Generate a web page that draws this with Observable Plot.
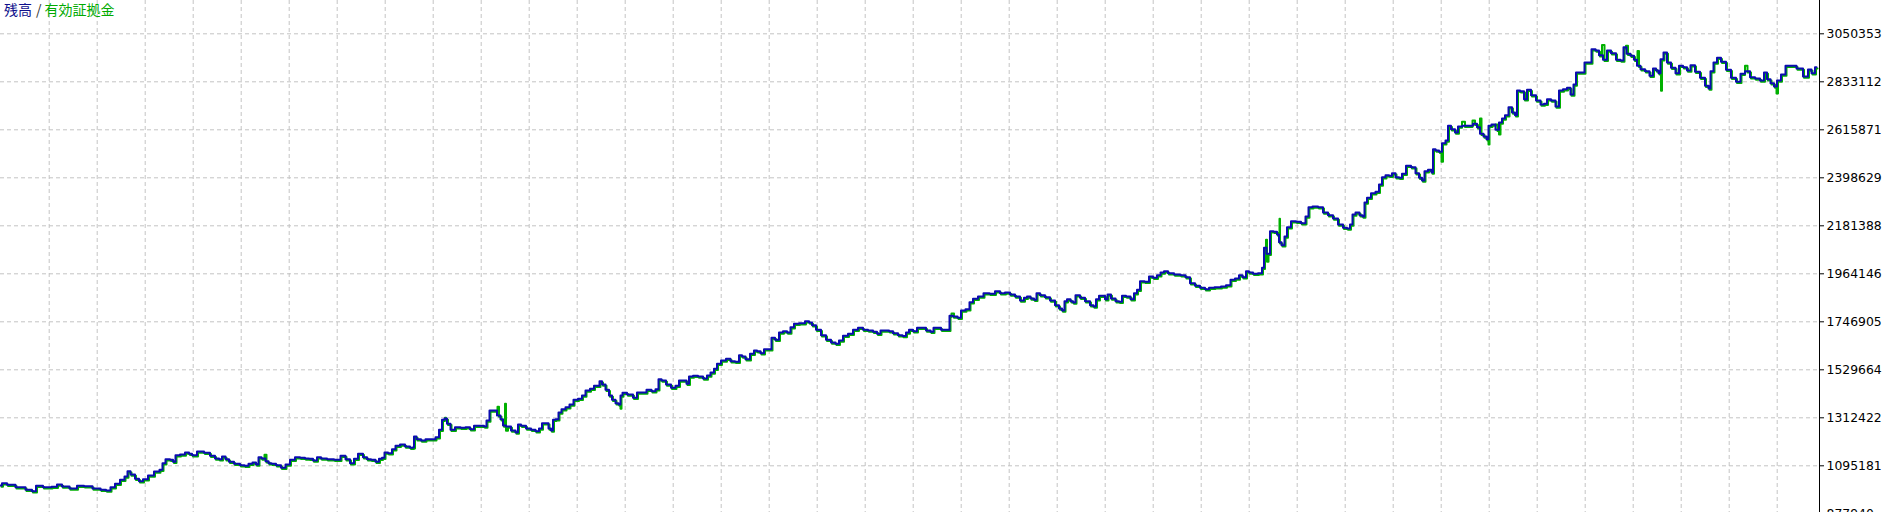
<!DOCTYPE html>
<html>
<head>
<meta charset="utf-8">
<script src="https://cdn.jsdelivr.net/npm/d3@7"></script>
<script src="https://cdn.jsdelivr.net/npm/@observablehq/plot@0.6"></script>
<style>
  html, body { margin: 0; padding: 0; background: #fff; overflow: hidden; }
  #wrap { position: relative; width: 1883px; height: 512px; }
  #title { position: absolute; left: 4px; top: 0px; font-family: "Noto Sans CJK JP", sans-serif; font-size: 14px; line-height: 18px; white-space: nowrap; }
  #title .bal { color: #10108c; }
  #title .sep { color: #333; margin: 0 3px 0 4px; }
  #title .eq { color: #00aa00; }
  svg text { font-family: "DejaVu Sans", sans-serif; }
</style>
</head>
<body>
<div id="wrap">
  <div id="chart"></div>
  <div id="title"><span class="bal">残高</span><span class="sep">/</span><span class="eq">有効証拠金</span></div>
</div>
<script>
// [trade number, balance]
const balanceHistory = [[0,1006000],[3,1016400],[10,1009200],[20,998300],[30,986600],[33,980200],[38,1004700],[47,998300],[55,1000100],[58,1010500],[65,1001500],[73,992400],[80,1004700],[87,1002900],[97,992400],[103,986600],[108,983400],[112,998300],[117,1013700],[122,1031800],[126,1046800],[128,1070700],[132,1055800],[137,1036300],[140,1025500],[145,1034500],[150,1051300],[157,1069400],[161,1077100],[163,1106900],[167,1125100],[172,1122300],[173,1113300],[177,1143200],[182,1146300],[187,1155400],[190,1149500],[193,1143200],[200,1159900],[207,1154000],[212,1140400],[217,1128200],[220,1125100],[223,1137300],[227,1125100],[230,1113300],[237,1104200],[242,1097900],[246,1095200],[250,1104200],[254,1110100],[257,1101100],[259,1134100],[263,1128200],[267,1116000],[269,1106900],[273,1104200],[278,1097900],[283,1086100],[287,1101100],[292,1122300],[297,1134100],[302,1131400],[307,1128200],[310,1126900],[315,1119200],[318,1134100],[323,1128200],[330,1125100],[337,1122300],[343,1140400],[347,1125100],[352,1106900],[355,1126900],[360,1149500],[365,1134100],[368,1125100],[373,1122300],[377,1113300],[380,1126900],[383,1131400],[385,1155400],[390,1152200],[393,1170300],[397,1185700],[402,1191600],[407,1182500],[412,1176600],[413,1179400],[414,1227800],[418,1215600],[423,1209700],[427,1215600],[433,1215600],[437,1224600],[440,1258100],[443,1303400],[445,1309300],[448,1285300],[452,1258100],[457,1269900],[463,1267200],[467,1269900],[472,1260800],[475,1276200],[482,1276200],[485,1273000],[487,1300200],[491,1345500],[495,1345500],[498,1322800],[502,1306100],[503,1277600],[508,1273000],[513,1254900],[517,1245900],[518,1282100],[523,1276200],[528,1264000],[533,1258100],[537,1251800],[540,1264000],[543,1288000],[547,1288000],[549,1264000],[552,1254900],[553,1303400],[557,1306100],[559,1336400],[563,1351400],[567,1360400],[571,1372600],[575,1393900],[580,1398400],[583,1413400],[587,1436000],[592,1443700],[595,1457300],[598,1457300],[600,1478100],[603,1463100],[607,1439100],[610,1413400],[613,1393900],[617,1378500],[619,1372600],[621,1413400],[623,1425600],[630,1417900],[635,1402900],[638,1426900],[643,1426900],[649,1439100],[653,1432800],[657,1441900],[659,1487100],[663,1481200],[668,1463100],[673,1448200],[677,1457300],[680,1481200],[685,1481200],[687,1466300],[690,1499300],[695,1502500],[700,1499300],[705,1490300],[708,1503900],[712,1517400],[715,1534200],[718,1556800],[723,1571800],[728,1579500],[732,1568600],[737,1565900],[740,1595700],[743,1589900],[747,1577600],[752,1602100],[755,1617000],[758,1613800],[762,1604800],[765,1622900],[770,1622900],[772,1674500],[777,1665400],[780,1698500],[785,1704400],[788,1698500],[792,1722500],[795,1737900],[802,1740600],[807,1749600],[810,1743700],[813,1731500],[818,1710700],[823,1686300],[828,1665400],[833,1653200],[837,1647300],[840,1662300],[845,1683500],[850,1692600],[855,1710700],[860,1719800],[865,1710700],[870,1707500],[875,1701700],[878,1692600],[882,1707500],[887,1707500],[890,1704400],[895,1695300],[900,1686300],[904,1682600],[907,1698500],[910,1710700],[915,1704400],[918,1719800],[923,1719800],[928,1707500],[932,1701700],[934,1719800],[938,1719800],[943,1710700],[948,1710700],[950,1774100],[955,1770900],[959,1765000],[962,1798000],[968,1803900],[970,1835600],[975,1851000],[980,1861400],[986,1876300],[992,1873600],[997,1885400],[1002,1876300],[1007,1879500],[1012,1870500],[1017,1861400],[1022,1843300],[1025,1855500],[1028,1861400],[1032,1852400],[1035,1846500],[1037,1876300],[1042,1867300],[1047,1858200],[1052,1843300],[1057,1822000],[1060,1807100],[1063,1798000],[1065,1840100],[1068,1849200],[1072,1840100],[1073,1834300],[1077,1867300],[1082,1855500],[1087,1840100],[1092,1822000],[1094,1816200],[1097,1849200],[1100,1864600],[1103,1864600],[1106,1849200],[1108,1870500],[1113,1852400],[1117,1840100],[1120,1837400],[1123,1864600],[1128,1861400],[1132,1849200],[1135,1876300],[1138,1891700],[1141,1930700],[1147,1927900],[1150,1951900],[1155,1946000],[1158,1957800],[1162,1970000],[1165,1975900],[1170,1966900],[1177,1961000],[1183,1957800],[1187,1948800],[1192,1921600],[1197,1909800],[1202,1900800],[1207,1894400],[1210,1900800],[1218,1903500],[1223,1906700],[1228,1912600],[1232,1937000],[1237,1942900],[1240,1957800],[1244,1948800],[1247,1975900],[1250,1970000],[1255,1964100],[1260,1966900],[1263,1991300],[1264,2081800],[1268,2054700],[1271,2156900],[1275,2154200],[1278,2142000],[1279,2107200],[1283,2093600],[1285,2133000],[1288,2175100],[1293,2202200],[1298,2199500],[1303,2193200],[1307,2223500],[1309,2265600],[1315,2268700],[1320,2265600],[1325,2241600],[1330,2229400],[1335,2214400],[1340,2187300],[1345,2172300],[1348,2169200],[1351,2187300],[1353,2232500],[1357,2241600],[1361,2229400],[1363,2223500],[1365,2286800],[1368,2308100],[1373,2328900],[1377,2335300],[1380,2368300],[1383,2401300],[1387,2410400],[1390,2407700],[1393,2419400],[1397,2401300],[1400,2398600],[1403,2416700],[1408,2452900],[1413,2446600],[1417,2419400],[1420,2398600],[1423,2386400],[1425,2428500],[1430,2434800],[1432,2422600],[1433,2528100],[1437,2522200],[1440,2516300],[1443,2555200],[1447,2567400],[1448,2634000],[1453,2618600],[1456,2603700],[1459,2630800],[1465,2634000],[1470,2634000],[1475,2643000],[1478,2627600],[1481,2597800],[1485,2585500],[1487,2573300],[1489,2634000],[1493,2639900],[1497,2615900],[1500,2648900],[1503,2667000],[1506,2681900],[1510,2718200],[1513,2694200],[1516,2681900],[1517,2793700],[1522,2790600],[1525,2754400],[1528,2796900],[1533,2772500],[1538,2748500],[1542,2730400],[1545,2733500],[1548,2754400],[1553,2748500],[1557,2721300],[1560,2793700],[1565,2799600],[1568,2806000],[1572,2775600],[1574,2820900],[1577,2875200],[1582,2875200],[1586,2920500],[1589,2920500],[1593,2980700],[1597,2974800],[1600,2953500],[1605,2932700],[1608,2974800],[1613,2962600],[1618,2932700],[1622,2929500],[1624,2989700],[1628,2959800],[1632,2950800],[1635,2932700],[1638,2905500],[1642,2890100],[1647,2881100],[1651,2860300],[1654,2893300],[1657,2884300],[1659,2872000],[1661,2935400],[1665,2965700],[1668,2920500],[1673,2896500],[1677,2872000],[1680,2905500],[1685,2899200],[1688,2884300],[1692,2908200],[1697,2878400],[1702,2851200],[1707,2815000],[1709,2802800],[1711,2881100],[1715,2920500],[1718,2941700],[1723,2923600],[1728,2887400],[1733,2851200],[1738,2833100],[1742,2869300],[1747,2881100],[1752,2853900],[1757,2848000],[1762,2839000],[1765,2875200],[1768,2844900],[1772,2826800],[1775,2811800],[1778,2839000],[1783,2866200],[1787,2905500],[1793,2905500],[1799,2893300],[1806,2857100],[1809,2888800],[1813,2872000],[1816,2899200]];

// [trade number, equity] where equity departs visibly from balance
const equityExcursions = [[263,1150900],[444,1318300],[497,1368100],[504,1381700],[505,1259500],[619,1359000],[950,1790400],[1265,2123900],[1266,2024300],[1278,2219000],[1440,2476900],[1462,2658000],[1472,2663800],[1479,2672900],[1487,2555200],[1495,2645700],[1498,2600500],[1601,3005100],[1625,3001900],[1637,2977900],[1660,2798300],[1745,2911400],[1775,2786000]];

const yTickValues = [3050353, 2833112, 2615871, 2398629, 2181388, 1964146, 1746905, 1529664, 1312422, 1095181, 877940];

const balanceSeries = balanceHistory.map(([t, v]) => ({trade: t, value: v}));
const equitySeries = balanceHistory.map(([t, v]) => ({trade: t, value: v, k: 0}))
  .concat(equityExcursions.map(([t, v]) => ({trade: t, value: v, k: 1})))
  .sort((a, b) => a.trade - b.trade || a.k - b.k);

const xMax = 1819;
const gridXTicks = d3.range(48.7, xMax, 48);

const chart = Plot.plot({
  width: 1883,
  height: 512,
  marginLeft: 0,
  marginRight: 64,
  marginTop: 0,
  marginBottom: 0,
  style: {background: "#fff", fontFamily: "DejaVu Sans, sans-serif"},
  x: {domain: [0, xMax], axis: null},
  y: {domain: [883823, 3201063], axis: null},
  marks: [
    Plot.gridX(gridXTicks, {stroke: "#c4c4c4", strokeOpacity: 1, strokeDasharray: "4,3"}),
    Plot.gridY(yTickValues, {stroke: "#c4c4c4", strokeOpacity: 1, strokeDasharray: "4,3"}),
    Plot.line(equitySeries, {x: "trade", y: "value", stroke: "#00b000", strokeWidth: 2, dx: 1, dy: 1.2, curve: "step"}),
    Plot.line(balanceSeries, {x: "trade", y: "value", stroke: "#0c0cb0", strokeWidth: 2, curve: "step"}),
    Plot.ruleX([xMax], {stroke: "#000", strokeWidth: 1}),
    Plot.axisY(yTickValues, {anchor: "right", label: null, tickSize: 4, tickPadding: 3, tickFormat: d => String(d), fontSize: 12.4, stroke: "#000", color: "#000"})
  ]
});
document.getElementById("chart").appendChild(chart);
</script>
</body>
</html>
